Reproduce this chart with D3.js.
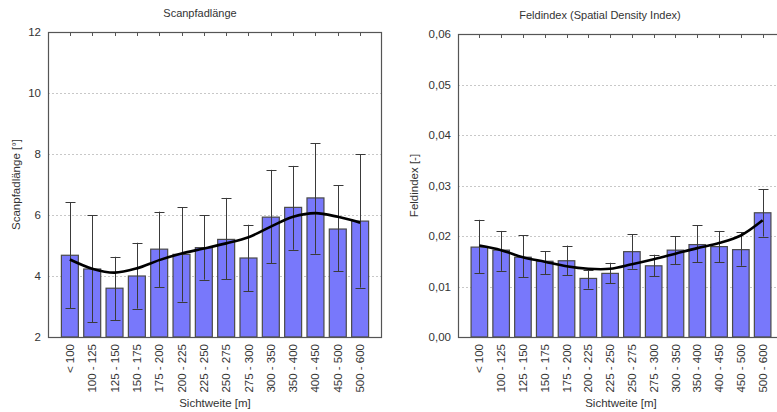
<!DOCTYPE html>
<html lang="de">
<head>
<meta charset="utf-8">
<title>Scanpfadlänge / Feldindex</title>
<script src="https://cdnjs.cloudflare.com/ajax/libs/d3/7.8.5/d3.min.js"></script>
<style>
  body { margin: 0; background: #fff; }
  svg { display: block; font-family: "Liberation Sans", Arial, sans-serif; }
  text { fill: #333; }
</style>
</head>
<body>
<svg id="chart" width="777" height="412"></svg>
<script>
// categories (Sichtweite)
const categories = ["< 100", "100 - 125", "125 - 150", "150 - 175", "175 - 200", "200 - 225", "225 - 250",
                    "250 - 275", "275 - 300", "300 - 350", "350 - 400", "400 - 450", "450 - 500", "500 - 600"];

// Scanpfadlänge
const scanMean  = [4.68, 4.23, 3.60, 4.00, 4.88, 4.71, 4.93, 5.20, 4.59, 5.93, 6.25, 6.56, 5.54, 5.80];
const scanLow   = [2.95, 2.48, 2.55, 2.93, 3.64, 3.16, 3.88, 3.89, 3.50, 4.42, 4.86, 4.73, 4.15, 3.62];
const scanHigh  = [6.42, 5.99, 4.63, 5.09, 6.11, 6.25, 5.99, 6.56, 5.68, 7.48, 7.61, 8.35, 6.97, 8.00];
const scanTrend = [4.54, 4.24, 4.11, 4.25, 4.52, 4.74, 4.90, 5.07, 5.27, 5.62, 5.94, 6.06, 5.94, 5.75];
const scanTicks = [2, 4, 6, 8, 10, 12];

// Feldindex
const feldMean  = [0.0178, 0.0172, 0.0158, 0.0150, 0.0151, 0.0116, 0.0126, 0.0169, 0.0141, 0.0172, 0.0183, 0.0179, 0.0173, 0.0246];
const feldLow   = [0.0126, 0.0131, 0.0118, 0.0124, 0.0122, 0.0096, 0.0106, 0.0135, 0.0120, 0.0144, 0.0148, 0.0148, 0.0141, 0.0199];
const feldHigh  = [0.0232, 0.0210, 0.0201, 0.0170, 0.0181, 0.0133, 0.0147, 0.0203, 0.0163, 0.0200, 0.0221, 0.0210, 0.0207, 0.0293];
const feldTrend = [0.0181, 0.0172, 0.0158, 0.0149, 0.0140, 0.0135, 0.0135, 0.0144, 0.0154, 0.0165, 0.0176, 0.0186, 0.0201, 0.0231];
const feldTicks = [0, 0.01, 0.02, 0.03, 0.04, 0.05, 0.06];

const svg = d3.select("#chart");

function panel(p) {
  var x = d3.scaleBand()
      .domain(categories)
      .range([p.left, p.right])
      .paddingInner(0.24)
      .paddingOuter(0.6);
  var y = d3.scaleLinear()
      .domain([p.ticks[0], p.ticks[p.ticks.length - 1]])
      .range([p.bottom, p.top]);
  var cx = c => x(c) + x.bandwidth() / 2;
  var g = svg.append("g");

  // dotted grid
  g.append("g").selectAll("line")
    .data(p.ticks.slice(1, -1))
    .enter().append("line")
    .attr("x1", p.left).attr("x2", p.right)
    .attr("y1", d => Math.round(y(d)) + 0.5).attr("y2", d => Math.round(y(d)) + 0.5)
    .attr("stroke", "#c8c8c8")
    .attr("stroke-dasharray", "2,2");

  // bars
  g.append("g").selectAll("rect")
    .data(p.mean)
    .enter().append("rect")
    .attr("x", (d, i) => x(categories[i]))
    .attr("width", x.bandwidth())
    .attr("y", d => y(d))
    .attr("height", d => p.bottom - y(d))
    .attr("fill", "#7878fb")
    .attr("stroke", "#4a4a4a")
    .attr("stroke-width", 1.2);

  // error bars
  var eb = g.append("g").attr("stroke", "#3a3a3a").attr("stroke-width", 1);
  categories.forEach(function (c, i) {
    var xc = Math.round(cx(c)) + 0.5;
    eb.append("line").attr("x1", xc).attr("x2", xc)
      .attr("y1", y(p.low[i])).attr("y2", y(p.high[i]));
    [p.low[i], p.high[i]].forEach(function (v) {
      eb.append("line").attr("x1", xc - 5).attr("x2", xc + 5)
        .attr("y1", Math.round(y(v)) + 0.5).attr("y2", Math.round(y(v)) + 0.5);
    });
  });

  // smooth trend
  var line = d3.line()
      .x((d, i) => cx(categories[i]))
      .y(d => y(d))
      .curve(d3.curveCatmullRom.alpha(0.5));
  g.append("path")
    .datum(p.trend)
    .attr("d", line)
    .attr("fill", "none")
    .attr("stroke", "#000")
    .attr("stroke-width", 2.6);

  // frame
  g.append("rect")
    .attr("x", p.left + 0.5).attr("y", p.top + 0.5)
    .attr("width", p.right - p.left - 1).attr("height", p.bottom - p.top)
    .attr("fill", "none")
    .attr("stroke", "#555")
    .attr("stroke-width", 1.2);

  // top ticks
  g.append("g").selectAll("line")
    .data(categories)
    .enter().append("line")
    .attr("x1", d => Math.round(cx(d)) + 0.5).attr("x2", d => Math.round(cx(d)) + 0.5)
    .attr("y1", p.top).attr("y2", p.top + 4)
    .attr("stroke", "#555");

  // y axis labels
  var yAxis = d3.axisLeft(y).tickValues(p.ticks).tickSize(0).tickPadding(7).tickFormat(p.fmt);
  var ya = g.append("g").attr("transform", "translate(" + p.left + ",0)").call(yAxis);
  ya.select(".domain").remove();
  ya.selectAll("text").style("font-size", "11.5px").attr("fill", "#333");

  // x labels (rotated)
  g.append("g").selectAll("text")
    .data(categories)
    .enter().append("text")
    .attr("transform", d => "translate(" + cx(d) + "," + (p.bottom + 7) + ") rotate(-90)")
    .attr("text-anchor", "end")
    .attr("dy", "0.35em")
    .style("font-size", "11.5px")
    .text(d => d);

  // titles
  g.append("text")
    .attr("x", p.titleX).attr("y", p.titleY)
    .attr("text-anchor", "middle")
    .style("font-size", "11px")
    .text(p.title);
  g.append("text")
    .attr("x", (p.left + p.right) / 2).attr("y", 407)
    .attr("text-anchor", "middle")
    .style("font-size", "11.5px")
    .text("Sichtweite [m]");
  g.append("text")
    .attr("transform", "translate(" + p.yTitleX + "," + (p.top + p.bottom) / 2 + ") rotate(-90)")
    .attr("text-anchor", "middle")
    .attr("dy", "0.35em")
    .style("font-size", "11.5px")
    .text(p.yTitle);
}

panel({
  left: 48, right: 382, top: 32, bottom: 337,
  ticks: scanTicks, mean: scanMean, low: scanLow, high: scanHigh, trend: scanTrend,
  fmt: d3.format("d"),
  title: "Scanpfadlänge", titleX: 200, titleY: 17,
  yTitle: "Scanpfadlänge [°]", yTitleX: 16
});

panel({
  left: 458, right: 784, top: 34, bottom: 337,
  ticks: feldTicks, mean: feldMean, low: feldLow, high: feldHigh, trend: feldTrend,
  fmt: d => d3.format(".2f")(d).replace(".", ","),
  title: "Feldindex (Spatial Density Index)", titleX: 600, titleY: 19,
  yTitle: "Feldindex [-]", yTitleX: 414
});
</script>
</body>
</html>
